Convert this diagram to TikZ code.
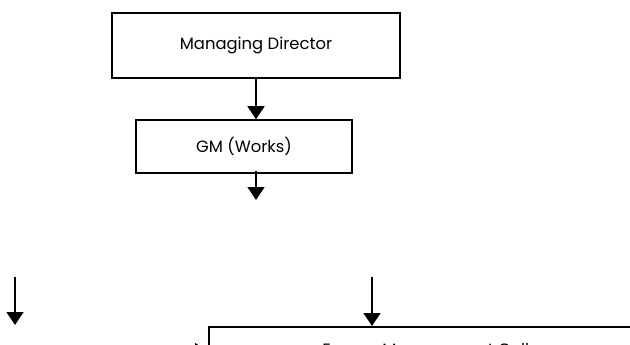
\documentclass[tikz,border=0pt]{standalone}
\usepackage{fontspec}
\setmainfont{Poppins}
\usetikzlibrary{arrows.meta}

\begin{document}
\begin{tikzpicture}[x=1pt,y=-1pt,
  post/.style={draw,line width=1.5pt,font=\fontsize{16.4}{19}\selectfont},
  link/.style={line width=1.4pt,-{Triangle[length=13pt,width=17pt]}}]
  \useasboundingbox (0,0) rectangle (630,345);
  \clip (0,0) rectangle (630,345);

  \node[post,minimum width=288pt,minimum height=65pt] (md) at (256,45.5) {Managing Director};
  \node[post,minimum width=216pt,minimum height=53pt] (gm) at (244,146.5) {GM (Works)};
  \node[post,minimum width=434pt,minimum height=49pt,anchor=north west] (emc) at (208,326) {Energy Management Cell};

  \coordinate (gmout) at (256,200);
  \coordinate (lefttop) at (15,277);
  \coordinate (leftend) at (15,325);
  \coordinate (midtop) at (372,277);
  \coordinate (sidein) at (150,351.5);

  \draw[link] (md.south) -- (md.south |- gm.north);
  \draw[link] (md.south |- gm.south) ++(0,-3) -- (gmout);
  \draw[link] (lefttop) -- (leftend);
  \draw[link] (midtop) -- (midtop |- emc.north);
  \draw[link] (sidein) -- (sidein -| emc.west);
\end{tikzpicture}
\end{document}
